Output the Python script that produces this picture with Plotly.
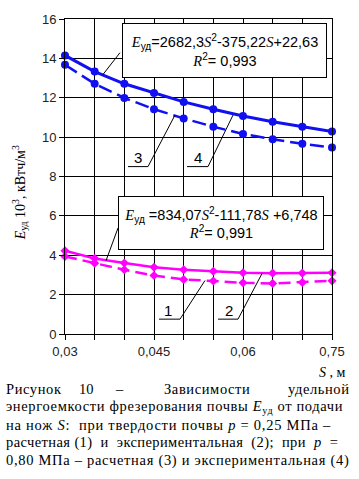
import plotly.graph_objects as go

# ---------------- data ----------------
S = [0.03, 0.035, 0.04, 0.045, 0.05, 0.055, 0.06, 0.065, 0.07, 0.075]
x_tick_labels = ["0,03", "", "", "0,045", "", "", "0,06", "", "", "0,75"]
y_ticks = [0, 2, 4, 6, 8, 10, 12, 14, 16]

E4 = [14.15, 13.33, 12.71, 12.24, 11.79, 11.42, 11.07, 10.78, 10.53, 10.28]  # solid blue
E3 = [13.67, 12.71, 11.99, 11.42, 10.95, 10.53, 10.16, 9.89, 9.66, 9.47]     # dashed blue
E2 = [4.23, 3.84, 3.61, 3.39, 3.26, 3.19, 3.11, 3.09, 3.09, 3.11]            # solid magenta
E1 = [3.94, 3.59, 3.26, 2.97, 2.77, 2.69, 2.60, 2.57, 2.62, 2.70]            # dashed magenta

# ---------------- layout geometry (pixels) ----------------
W, H = 359, 479
L, R, T, B = 65, 332, 16, 334

def px(x):
    return (x - L) / (R - L)

def py(y):
    return (B - y) / (B - T)

BLUE = "#1010F0"
MAG = "#FF00FF"
SERIF = "Liberation Serif, Times New Roman, serif"
SANS = "Liberation Sans, Arial, sans-serif"

fig = go.Figure()
fig.add_trace(go.Scatter(x=S, y=E4, mode="lines+markers", cliponaxis=False,
                         line=dict(color=BLUE, width=3),
                         marker=dict(color=BLUE, size=8, symbol="circle")))
fig.add_trace(go.Scatter(x=S, y=E3, mode="lines+markers", cliponaxis=False,
                         line=dict(color=BLUE, width=2.5, dash="14px,6px"),
                         marker=dict(color=BLUE, size=8, symbol="circle")))
fig.add_trace(go.Scatter(x=S, y=E2, mode="lines+markers", cliponaxis=False,
                         line=dict(color=MAG, width=2.5),
                         marker=dict(color=MAG, size=7, symbol="diamond")))
fig.add_trace(go.Scatter(x=S, y=E1, mode="lines+markers", cliponaxis=False,
                         line=dict(color=MAG, width=2.5, dash="12px,6px"),
                         marker=dict(color=MAG, size=7, symbol="diamond")))

fig.update_xaxes(range=[S[0], S[-1]], tickvals=S, ticktext=x_tick_labels,
                 showgrid=True, gridcolor="black", gridwidth=1,
                 showline=True, linecolor="black", linewidth=1, mirror=True,
                 ticks="outside", ticklen=5, tickcolor="black",
                 tickfont=dict(family=SANS, size=13, color="#222"), zeroline=False)
fig.update_yaxes(range=[0, 16], tickvals=y_ticks,
                 showgrid=True, gridcolor="black", gridwidth=1,
                 showline=True, linecolor="black", linewidth=1, mirror=True,
                 ticks="outside", ticklen=5, tickcolor="black",
                 tickfont=dict(family=SANS, size=13, color="#222"), zeroline=False)

ann = []
shapes = []

def line(x0, y0, x1, y1):
    shapes.append(dict(type="line", xref="paper", yref="paper",
                       x0=px(x0), y0=py(y0), x1=px(x1), y1=py(y1),
                       line=dict(color="black", width=1)))

def text(x, y, s, size=13, family=SERIF, xanchor="center", **kw):
    ann.append(dict(x=px(x), y=py(y), xref="paper", yref="paper", text=s,
                    showarrow=False, xanchor=xanchor, yanchor="middle",
                    font=dict(family=family, size=size, color="black"), **kw))

def it(s):
    return f'<span style="font-family:{SERIF}"><i>{s}</i></span>'

def ls(s, sp):
    return f'<span style="letter-spacing:{sp}px">{s}</span>'

# equation boxes
eq1 = (f"{it('E')}<sub>уд</sub>=2682,3{it('S')}<sup>2</sup>-375,22{it('S')}+22,63"
       f"<br>{it('R')}<sup>2</sup>= 0,993")
eq2 = (f"{it('E')}<sub>уд</sub> =834,07{it('S')}<sup>2</sup>-111,78{it('S')} +6,748"
       f"<br>{it('R')}<sup>2</sup>= 0,991")
ann.append(dict(x=px(224.5), y=py(47.5), xref="paper", yref="paper", text=eq1,
                showarrow=False, xanchor="center", yanchor="middle",
                width=203, height=53, bgcolor="white", bordercolor="black",
                borderwidth=1, borderpad=0,
                font=dict(family=SANS, size=14.5, color="black")))
ann.append(dict(x=px(221), y=py(222), xref="paper", yref="paper", text=eq2,
                showarrow=False, xanchor="center", yanchor="middle",
                width=204, height=52, bgcolor="white", bordercolor="black",
                borderwidth=1, borderpad=0,
                font=dict(family=SANS, size=14.5, color="black")))
line(120, 50, 103, 72)
line(118, 227, 106, 260)

# curve labels with leaders
text(138, 156, "3", size=15, family=SANS)
line(128, 165, 148, 165); line(148, 165, 175, 113)
text(198, 156, "4", size=15, family=SANS)
line(187, 165, 208, 165); line(208, 165, 233, 113)
text(168, 310, "1", size=15, family=SANS)
line(159, 319, 180, 319); line(180, 319, 205, 280)
text(229, 310, "2", size=15, family=SANS)
line(218, 319, 238, 319); line(238, 319, 262, 273)

# axis titles
ann.append(dict(x=px(20), y=py(192), xref="paper", yref="paper",
                text=f"<i>E</i><sub>уд</sub> 10<sup>3</sup>, кВтч/м<sup>3</sup>",
                showarrow=False, textangle=-90, xanchor="center", yanchor="middle",
                font=dict(family=SERIF, size=14, color="black")))
text(348, 373, "<i>S</i> , м", size=14, xanchor="right")

# caption
CF = 14.5
text(4, 390, ls("Рисунок", 0.6), size=CF, xanchor="left")
text(86, 390, "10", size=CF)
text(119, 390, "–", size=CF)
text(162, 390, ls("Зависимости", 0.6), size=CF, xanchor="left")
text(352, 390, ls("удельной", 0.6), size=CF, xanchor="right")
text(4, 408, ls("энергоемкости фрезерования почвы <i>E</i><sub>уд</sub> от подачи", 0.65),
     size=CF, xanchor="left")
text(4, 426, ls("на нож <i>S</i>:  при твердости почвы <i>p</i> = 0,25 МПа –", 0.75),
     size=CF, xanchor="left")
text(4, 444, ls("расчетная (1)  и  экспериментальная  (2);  при  <i>p</i>  =", 0.4),
     size=CF, xanchor="left")
text(4, 462, ls("0,80 МПа – расчетная (3) и экспериментальная (4)", 0.7),
     size=CF, xanchor="left")

fig.update_layout(width=W, height=H, autosize=False,
                  margin=dict(l=L, r=W - R, t=T, b=H - B),
                  paper_bgcolor="white", plot_bgcolor="white",
                  showlegend=False, annotations=ann, shapes=shapes)

fig.write_html("out.html", config={"displayModeBar": False},
               post_script="document.body.style.margin='0';document.body.style.padding='0';")
